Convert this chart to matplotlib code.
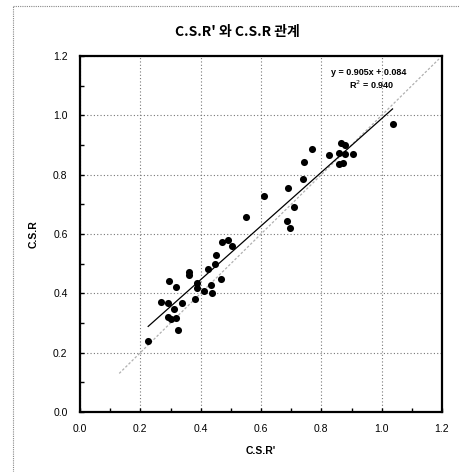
import matplotlib
matplotlib.use("Agg")
import matplotlib.pyplot as plt
from matplotlib.lines import Line2D
import numpy as np

# Data
csr_prime = [0.226, 0.324, 0.293, 0.300, 0.317, 0.313, 0.291, 0.267, 0.338, 0.382,
             0.296, 0.317, 0.361, 0.361, 0.387, 0.388, 0.412, 0.433, 0.439, 0.467,
             0.425, 0.446, 0.452, 0.471, 0.491, 0.503, 0.549, 0.610, 0.685, 0.696,
             0.710, 0.690, 0.738, 0.744, 0.769, 0.824, 0.860, 0.873, 0.858, 0.877,
             0.865, 0.878, 0.904, 1.036]
csr = [0.240, 0.276, 0.319, 0.312, 0.316, 0.347, 0.366, 0.372, 0.368, 0.382,
       0.443, 0.421, 0.473, 0.462, 0.434, 0.417, 0.408, 0.428, 0.402, 0.447,
       0.482, 0.498, 0.529, 0.574, 0.580, 0.558, 0.658, 0.729, 0.645, 0.619,
       0.692, 0.755, 0.784, 0.842, 0.887, 0.867, 0.835, 0.840, 0.874, 0.870,
       0.908, 0.899, 0.868, 0.970]
slope = 0.905
intercept = 0.084
r2 = 0.940
ref_line = [0.13, 1.19]  # 1:1 line extent

tick_vals = [0.0, 0.2, 0.4, 0.6, 0.8, 1.0, 1.2]

fig = plt.figure(figsize=(4.59, 4.72), dpi=100)
ax = fig.add_axes([80/459, 1-412/472, 362/459, 356/472])

# 1:1 line
ax.plot(ref_line, ref_line, color="#b0b0b0", lw=0.9, ls=(0, (2, 1.5)), zorder=2)
# fit line
xs = np.array([min(csr_prime), max(csr_prime)])
ax.plot(xs, slope*xs + intercept, color="black", lw=0.9, zorder=3)
ax.scatter(csr_prime, csr, s=26, color="black", zorder=4, linewidths=0)

ax.set_xlim(0, 1.2)
ax.set_ylim(0, 1.2)
ax.set_xticks(tick_vals)
ax.set_yticks(tick_vals)
ax.set_xticklabels([f"{v:.1f}" for v in tick_vals])
ax.set_yticklabels([f"{v:.1f}" for v in tick_vals])
ax.set_xticks(np.arange(0.1, 1.2, 0.2), minor=True)
ax.set_yticks(np.arange(0.1, 1.2, 0.2), minor=True)
ax.tick_params(which="both", direction="in", length=3, width=1, labelsize=7.5, pad=9)
ax.grid(True, which="major", ls=(0, (1, 2)), color="#777777", lw=0.8)
for sp in ax.spines.values():
    sp.set_linewidth(1.6)

font = ["Liberation Sans", "DejaVu Sans"]
for lbl in ax.get_xticklabels() + ax.get_yticklabels():
    lbl.set_family(font)

ax.set_xlabel("C.S.R'", fontsize=7.5, fontweight="bold", family=font, labelpad=8)
ax.set_ylabel("C.S.R", fontsize=7.5, fontweight="bold", family=font, labelpad=10)

ax.text(0.958, 1.143, f"y = {slope:.3f}x + {intercept:.3f}", fontsize=6.5, fontweight="bold",
        ha="center", va="center", family=font)
ax.text(0.968, 1.102, f"R$^2$ = {r2:.3f}", fontsize=6.5, fontweight="bold",
        ha="center", va="center", family=font)

fig.text(237/459, 1-32/472, "C.S.R' 와 C.S.R 관계", fontsize=10, fontweight="bold",
         ha="center", va="center", family=["Noto Sans CJK KR", "DejaVu Sans"])

# dotted outer border (top and left)
fig.add_artist(Line2D([13/459, 13/459], [0, 1-6/472], transform=fig.transFigure,
                      color="#888888", lw=0.8, ls=(0, (1, 1))))
fig.add_artist(Line2D([13/459, 1], [1-6/472, 1-6/472], transform=fig.transFigure,
                      color="#888888", lw=0.8, ls=(0, (1, 1))))

fig.savefig("out.png", dpi=100)
